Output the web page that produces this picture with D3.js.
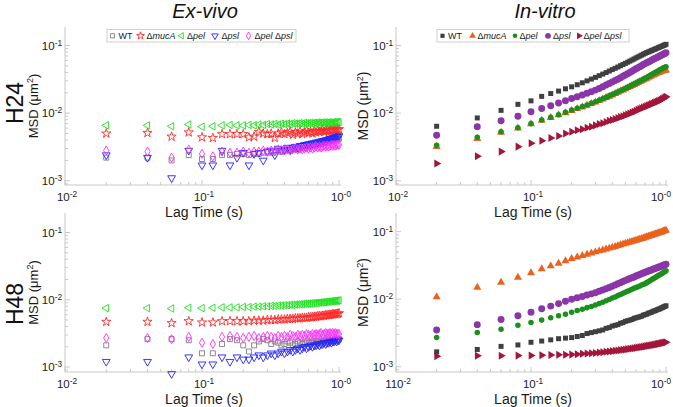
<!DOCTYPE html>
<html><head><meta charset="utf-8">
<script src="https://cdn.jsdelivr.net/npm/d3@7"></script>
<style>body{margin:0;background:#fff}svg{display:block;font-family:Arial,"Liberation Sans",sans-serif}</style>
</head><body><svg id="c" width="673" height="407"></svg>
<script>
const lag = [0.02,0.04,0.06,0.08,0.10,0.12,0.14,0.16,0.18,0.20,0.22,0.24,0.26,0.28,0.30,0.32,0.34,0.36,0.38,0.40,0.42,0.44,0.46,0.48,0.50,0.52,0.54,0.56,0.58,0.60,0.62,0.64,0.66,0.68,0.70,0.72,0.74,0.76,0.78,0.80,0.82,0.84,0.86,0.88,0.90,0.92,0.94,0.96,0.98,1.00];
const seriesNames = ["WT","ΔmucA","Δpel","Δpsl","Δpel Δpsl"];
const xTickLabels = ["10-2","10-1","10-0"];
const yTickLabels = ["10-3","10-2","10-1"];

// Ex-vivo H24
const exH24_WT = [0.0022,0.0022,0.0020,0.0024,0.0021,0.0021,0.0024,0.0024,0.0025,0.0025,0.0024,0.0025,0.0025,0.0026,0.0027,0.0026,0.0027,0.0028,0.0027,0.0028,0.0029,0.0028,0.0029,0.0030,0.0029,0.0030,0.0031,0.0030,0.0031,0.0032,0.0032,0.0033,0.0033,0.0034,0.0034,0.0035,0.0035,0.0036,0.0036,0.0037,0.0037,0.0038,0.0038,0.0039,0.0039,0.0040,0.0040,0.0041,0.0041,0.0042];
const exH24_mucA = [0.0050,0.0051,0.0045,0.0052,0.0044,0.0043,0.0049,0.0049,0.0049,0.0049,0.0044,0.0045,0.0053,0.0050,0.0049,0.0050,0.0043,0.0050,0.0052,0.0049,0.0051,0.0053,0.0048,0.0052,0.0050,0.0054,0.0049,0.0052,0.0055,0.0051,0.0053,0.0050,0.0054,0.0052,0.0055,0.0053,0.0054,0.0056,0.0053,0.0055,0.0056,0.0054,0.0056,0.0055,0.0057,0.0056,0.0057,0.0058,0.0057,0.0058];
const exH24_pel = [0.0066,0.0066,0.0064,0.0068,0.0063,0.0064,0.0066,0.0067,0.0066,0.0066,0.0067,0.0066,0.0068,0.0067,0.0069,0.0068,0.0069,0.0068,0.0070,0.0069,0.0070,0.0069,0.0071,0.0070,0.0070,0.0071,0.0070,0.0072,0.0071,0.0071,0.0072,0.0071,0.0072,0.0071,0.0073,0.0072,0.0072,0.0073,0.0072,0.0073,0.0072,0.0073,0.0073,0.0072,0.0073,0.0074,0.0073,0.0073,0.0074,0.0073];
const exH24_psl = [0.0024,0.0022,0.0011,0.0028,0.0017,0.0017,0.0028,0.0017,0.0022,0.0026,0.0017,0.0025,0.0026,0.0020,0.0027,0.0028,0.0024,0.0030,0.0028,0.0029,0.0031,0.0029,0.0031,0.0032,0.0031,0.0033,0.0033,0.0034,0.0034,0.0035,0.0035,0.0036,0.0036,0.0037,0.0037,0.0038,0.0038,0.0039,0.0039,0.0040,0.0040,0.0041,0.0042,0.0042,0.0043,0.0043,0.0044,0.0045,0.0045,0.0046];
const exH24_pelpsl = [0.0028,0.0027,0.0022,0.0029,0.0025,0.0023,0.0027,0.0026,0.0026,0.0027,0.0026,0.0027,0.0027,0.0028,0.0027,0.0028,0.0027,0.0029,0.0028,0.0028,0.0029,0.0028,0.0029,0.0030,0.0029,0.0030,0.0029,0.0030,0.0031,0.0030,0.0031,0.0030,0.0031,0.0032,0.0031,0.0032,0.0031,0.0032,0.0033,0.0032,0.0033,0.0032,0.0033,0.0034,0.0033,0.0034,0.0033,0.0034,0.0034,0.0034];

// In-vitro H24
const inH24_WT = [0.0064,0.0085,0.0110,0.0135,0.0152,0.0177,0.0195,0.0212,0.0229,0.0245,0.0263,0.0281,0.0300,0.0319,0.0338,0.0358,0.0378,0.0398,0.0419,0.0440,0.0460,0.0481,0.0502,0.0523,0.0544,0.0566,0.0588,0.0610,0.0632,0.0655,0.0677,0.0699,0.0721,0.0744,0.0766,0.0785,0.0803,0.0821,0.0840,0.0858,0.0876,0.0894,0.0913,0.0931,0.0949,0.0967,0.0985,0.1003,0.1022,0.1040];
const inH24_mucA = [0.0032,0.0042,0.0052,0.0060,0.0069,0.0078,0.0086,0.0094,0.0101,0.0109,0.0116,0.0123,0.0130,0.0138,0.0145,0.0153,0.0161,0.0169,0.0177,0.0185,0.0194,0.0202,0.0211,0.0219,0.0228,0.0237,0.0246,0.0255,0.0264,0.0273,0.0282,0.0291,0.0300,0.0309,0.0318,0.0327,0.0336,0.0345,0.0354,0.0363,0.0372,0.0381,0.0389,0.0397,0.0405,0.0413,0.0419,0.0425,0.0429,0.0433];
const inH24_pel = [0.00335,0.0044,0.0053,0.0061,0.0070,0.0079,0.0087,0.0095,0.0103,0.0111,0.0118,0.0125,0.0132,0.0140,0.0147,0.0155,0.0163,0.0171,0.0180,0.0188,0.0197,0.0205,0.0214,0.0223,0.0232,0.0241,0.0250,0.0260,0.0269,0.0279,0.0288,0.0298,0.0307,0.0317,0.0326,0.0337,0.0348,0.0359,0.0370,0.0381,0.0392,0.0403,0.0414,0.0425,0.0436,0.0447,0.0458,0.0469,0.0476,0.0486];
const inH24_psl = [0.0047,0.0063,0.0077,0.0090,0.0105,0.0117,0.0129,0.0141,0.0153,0.0165,0.0175,0.0186,0.0197,0.0208,0.0219,0.0232,0.0246,0.0260,0.0274,0.0288,0.0303,0.0318,0.0334,0.0350,0.0366,0.0383,0.0400,0.0417,0.0435,0.0452,0.0469,0.0487,0.0504,0.0522,0.0540,0.0555,0.0571,0.0587,0.0603,0.0619,0.0635,0.0651,0.0667,0.0683,0.0699,0.0715,0.0731,0.0747,0.0764,0.0780];
const inH24_pelpsl = [0.0018,0.0023,0.0027,0.0032,0.0036,0.0039,0.0043,0.0046,0.0050,0.0053,0.0056,0.0058,0.0061,0.0063,0.0066,0.0069,0.0071,0.0074,0.0077,0.0079,0.0082,0.0085,0.0088,0.0090,0.0093,0.0096,0.0099,0.0102,0.0105,0.0108,0.0112,0.0115,0.0118,0.0121,0.0124,0.0127,0.0130,0.0133,0.0136,0.0139,0.0142,0.0145,0.0148,0.0151,0.0154,0.0158,0.0162,0.0166,0.0170,0.0175];

// Ex-vivo H48
const exH48_WT = [0.0021,0.0026,0.0026,0.0025,0.0016,0.0016,0.0022,0.0026,0.0025,0.0021,0.0017,0.0021,0.0024,0.0026,0.0025,0.0022,0.0024,0.0023,0.0021,0.0022,0.0024,0.0023,0.0021,0.0022,0.0024,0.0023,0.0022,0.0023,0.0024,0.0023,0.0023,0.0024,0.0023,0.0024,0.0024,0.0023,0.0024,0.0024,0.0025,0.0024,0.0024,0.0025,0.0024,0.0025,0.0025,0.0025,0.0025,0.0026,0.0025,0.0026];
const exH48_mucA = [0.0047,0.0047,0.0045,0.0048,0.0046,0.0046,0.0048,0.0048,0.0048,0.0048,0.0048,0.0049,0.0049,0.0049,0.0050,0.0050,0.0050,0.0051,0.0051,0.0051,0.0052,0.0052,0.0052,0.0053,0.0053,0.0053,0.0054,0.0054,0.0054,0.0055,0.0055,0.0055,0.0056,0.0056,0.0057,0.0057,0.0057,0.0058,0.0058,0.0059,0.0059,0.0059,0.0060,0.0060,0.0061,0.0061,0.0061,0.0062,0.0062,0.0063];
const exH48_pel = [0.0075,0.0075,0.0074,0.0076,0.0075,0.0076,0.0077,0.0077,0.0077,0.0078,0.0078,0.0079,0.0079,0.0080,0.0080,0.0081,0.0081,0.0082,0.0082,0.0083,0.0083,0.0084,0.0084,0.0085,0.0085,0.0086,0.0086,0.0087,0.0087,0.0088,0.0088,0.0089,0.0089,0.0090,0.0090,0.0091,0.0091,0.0092,0.0092,0.0093,0.0093,0.0094,0.0094,0.0095,0.0095,0.0096,0.0096,0.0097,0.0097,0.0098];
const exH48_psl = [0.0012,0.0012,0.00079,0.0014,0.0011,0.0011,0.0014,0.0012,0.0014,0.0013,0.0013,0.0014,0.0015,0.0014,0.0015,0.0016,0.0015,0.0016,0.0017,0.0016,0.0017,0.0018,0.0017,0.0018,0.0019,0.0018,0.0019,0.0020,0.0019,0.0020,0.0021,0.0020,0.0021,0.0021,0.0022,0.0021,0.0022,0.0022,0.0023,0.0022,0.0023,0.0023,0.0024,0.0023,0.0024,0.0024,0.0025,0.0024,0.0025,0.0025];
const exH48_pelpsl = [0.0027,0.0027,0.0026,0.0028,0.0023,0.0022,0.0028,0.0029,0.0028,0.0027,0.0028,0.0029,0.0027,0.0028,0.0029,0.0028,0.0027,0.0029,0.0028,0.0029,0.0028,0.0030,0.0029,0.0028,0.0030,0.0029,0.0030,0.0029,0.0031,0.0030,0.0029,0.0031,0.0030,0.0031,0.0030,0.0031,0.0032,0.0030,0.0031,0.0032,0.0031,0.0031,0.0032,0.0031,0.0032,0.0031,0.0032,0.0031,0.0031,0.0031];

// In-vitro H48
const inH48_WT = [0.00166,0.0018,0.0020,0.0021,0.0023,0.0024,0.0025,0.0026,0.00265,0.0027,0.0028,0.0029,0.0031,0.0032,0.0033,0.0034,0.0035,0.0037,0.0038,0.0040,0.0041,0.0042,0.0044,0.0045,0.0047,0.0048,0.0049,0.0050,0.0052,0.0053,0.0054,0.0055,0.0056,0.0058,0.0059,0.0060,0.0062,0.0063,0.0064,0.0066,0.0067,0.0068,0.0070,0.0071,0.0072,0.0074,0.0075,0.0077,0.0078,0.0080];
const inH48_mucA = [0.0108,0.0149,0.0177,0.0210,0.0245,0.0280,0.0310,0.0340,0.0370,0.0400,0.0420,0.0440,0.0460,0.0480,0.0500,0.0517,0.0534,0.0551,0.0568,0.0585,0.0602,0.0619,0.0636,0.0653,0.0670,0.0685,0.0700,0.0715,0.0730,0.0745,0.0760,0.0775,0.0790,0.0805,0.0820,0.0835,0.0850,0.0865,0.0880,0.0895,0.0910,0.0925,0.0940,0.0955,0.0970,0.0985,0.1000,0.1015,0.1033,0.1050];
const inH48_pel = [0.0027,0.0032,0.0036,0.0041,0.0045,0.0049,0.0053,0.0057,0.0060,0.0064,0.0068,0.0071,0.0075,0.0078,0.0082,0.0086,0.0090,0.0095,0.0099,0.0104,0.0108,0.0113,0.0117,0.0122,0.0127,0.0131,0.0136,0.0140,0.0145,0.0149,0.0153,0.0157,0.0162,0.0166,0.0170,0.0176,0.0182,0.0188,0.0194,0.0200,0.0206,0.0212,0.0218,0.0224,0.0230,0.0237,0.0243,0.0250,0.0256,0.0263];
const inH48_psl = [0.0035,0.0042,0.0050,0.0057,0.0064,0.0072,0.0079,0.0086,0.0093,0.0100,0.0105,0.0110,0.0115,0.0120,0.0125,0.0131,0.0137,0.0143,0.0149,0.0156,0.0163,0.0169,0.0176,0.0183,0.0190,0.0196,0.0202,0.0208,0.0214,0.0220,0.0226,0.0232,0.0238,0.0244,0.0250,0.0255,0.0261,0.0266,0.0271,0.0277,0.0282,0.0287,0.0293,0.0298,0.0303,0.0309,0.0314,0.0319,0.0325,0.0330];
const inH48_pelpsl = [0.00143,0.00145,0.00145,0.00146,0.00147,0.00148,0.00149,0.00150,0.00150,0.00151,0.00153,0.00155,0.00157,0.00158,0.00160,0.00162,0.00164,0.00166,0.00168,0.00170,0.00172,0.00174,0.00176,0.00178,0.00180,0.00182,0.00184,0.00186,0.00188,0.00190,0.00192,0.00194,0.00196,0.00198,0.00200,0.00202,0.00204,0.00206,0.00208,0.00210,0.00212,0.00214,0.00216,0.00218,0.00220,0.00222,0.00224,0.00226,0.00228,0.00230];

const svg = d3.select("#c");

const exStyles = [
  {shape:"square", color:"#7f7f7f", fill:false},
  {shape:"star", color:"#ff2a2a", fill:false},
  {shape:"tleft", color:"#1ee01e", fill:false},
  {shape:"tdown", color:"#2323ff", fill:false},
  {shape:"diamond", color:"#ff2cff", fill:false}
];
const inStyles = [
  {shape:"square", color:"#3f3f3f", fill:true},
  {shape:"tup", color:"#ea621f", fill:true},
  {shape:"dot", color:"#1d8f1d", fill:true},
  {shape:"circle", color:"#8a35a8", fill:true},
  {shape:"tright", color:"#a3153a", fill:true}
];

function symPath(shape, s){
  switch(shape){
    case "square": return {d:d3.symbol(d3.symbolSquare, 25*s)(), rot:0};
    case "star": return {d:d3.symbol(d3.symbolStar, 26*s)(), rot:0};
    case "tleft": return {d:d3.symbol(d3.symbolTriangle, 24*s)(), rot:-90};
    case "tdown": return {d:d3.symbol(d3.symbolTriangle, 26*s)(), rot:180};
    case "tup": return {d:d3.symbol(d3.symbolTriangle, 28*s)(), rot:0};
    case "tright": return {d:d3.symbol(d3.symbolTriangle, 28*s)(), rot:90};
    case "diamond": return {d:d3.symbol(d3.symbolDiamond, 24*s)(), rot:0};
    case "circle": return {d:d3.symbol(d3.symbolCircle, 38*s)(), rot:0};
    case "dot": return {d:d3.symbol(d3.symbolCircle, 24*s)(), rot:0};
  }
}

function drawSupLabel(g, x, y, txt, anchor, size){
  const parts = txt.split("-");
  const t = g.append("text").attr("x", x).attr("y", y).attr("text-anchor", anchor)
    .attr("font-size", size).attr("fill", "#1a1a1a");
  t.append("tspan").text(parts[0]);
  t.append("tspan").attr("dy", -4).attr("font-size", size*0.72).text("-" + parts[1]);
}

const legendPos = [
  {box:[107, 296], marks:[112.5, 140.5, 181.5, 215, 248.5], texts:[118.5, 146.5, 187, 221.5, 254.5]},
  {box:[437, 629], marks:[442.5, 472.5, 515, 548, 579], texts:[448, 477.5, 519.5, 553, 583.5]}
];

const panels = [
  {xL:65, xR:339, y3:180.8, y1:45.5, top:27, bottom:185, data:[exH24_WT,exH24_mucA,exH24_pel,exH24_psl,exH24_pelpsl], styles:exStyles, legend:0, xFirst:"10-2"},
  {xL:396, xR:666, y3:180.8, y1:45.5, top:27, bottom:185, data:[inH24_WT,inH24_mucA,inH24_pel,inH24_psl,inH24_pelpsl], styles:inStyles, legend:1, xFirst:"10-2"},
  {xL:65, xR:339, y3:367, y1:232.5, top:213, bottom:372, data:[exH48_WT,exH48_mucA,exH48_pel,exH48_psl,exH48_pelpsl], styles:exStyles, legend:-1, xFirst:"10-2"},
  {xL:396, xR:666, y3:366.7, y1:231.7, top:213, bottom:372, data:[inH48_WT,inH48_mucA,inH48_pel,inH48_psl,inH48_pelpsl], styles:inStyles, legend:-1, xFirst:"110-2"}
];

panels.forEach((p, pi) => {
  const g = svg.append("g");
  const x = d3.scaleLog().domain([0.01, 1]).range([p.xL, p.xR]);
  const y0 = d3.scaleLog().domain([1e-3, 1e-1]).range([p.y3, p.y1]);
  const y = d3.scaleLog().domain([y0.invert(p.bottom), y0.invert(p.top)]).range([p.bottom, p.top]);
  const axisColor = "#c8c8c8";
  g.append("line").attr("x1", p.xL).attr("x2", p.xL).attr("y1", p.top).attr("y2", p.bottom).attr("stroke", axisColor);
  g.append("line").attr("x1", p.xL).attr("x2", p.xR + 2).attr("y1", p.bottom).attr("y2", p.bottom).attr("stroke", axisColor);
  const xt = [];
  [-2,-1].forEach(d => { for(let k=1;k<=9;k++) xt.push({v:k*Math.pow(10,d), major:k===1}); });
  xt.push({v:1, major:true});
  xt.forEach(t => {
    const px = x(t.v);
    g.append("line").attr("x1", px).attr("x2", px).attr("y1", p.bottom).attr("y2", p.bottom - (t.major?5:3)).attr("stroke", axisColor);
  });
  const yt = [];
  [-4,-3,-2,-1].forEach(d => { for(let k=1;k<=9;k++) yt.push({v:k*Math.pow(10,d), major:k===1}); });
  yt.filter(t => y(t.v) <= p.bottom && y(t.v) >= p.top).forEach(t => {
    const py = y(t.v);
    g.append("line").attr("x1", p.xL).attr("x2", p.xL + (t.major?5:3)).attr("y1", py).attr("y2", py).attr("stroke", axisColor);
  });
  const xVals = [0.01, 0.1, 1];
  xVals.forEach((v, i) => {
    const lab = i === 0 ? p.xFirst : xTickLabels[i];
    let px = x(v) + 2;
    if (i === 2 && pi % 2 === 1) px = x(v) - 5;
    drawSupLabel(g, px, p.bottom + 16, lab, "middle", 11.5);
  });
  const yVals = [1e-3, 1e-2, 1e-1];
  yVals.forEach((v, i) => {
    drawSupLabel(g, p.xL - 3, y(v) + 4, yTickLabels[i], "end", 11.5);
  });
  p.data.forEach((vals, si) => {
    const st = p.styles[si];
    const sp = symPath(st.shape, 1);
    g.append("g").selectAll("path").data(vals).join("path")
      .attr("d", sp.d)
      .attr("transform", (d, i) => `translate(${x(lag[i])},${y(d)}) rotate(${sp.rot})`)
      .attr("fill", st.fill ? st.color : "none")
      .attr("stroke", st.fill ? "none" : st.color)
      .attr("stroke-width", 0.9);
  });
  g.append("text").attr("x", (p.xL + p.xR)/2 + 2).attr("y", p.bottom + 32).attr("text-anchor", "middle")
    .attr("font-size", 14).attr("fill", "#1a1a1a").text("Lag Time (s)");
  const my = (p.top + p.bottom)/2;
  const mx = p.xL - (pi % 2 === 0 ? 27 : 28);
  const mt = g.append("text").attr("transform", `translate(${mx},${my}) rotate(-90)`).attr("text-anchor", "middle")
    .attr("font-size", pi % 2 === 0 ? 13 : 14).attr("fill", "#1a1a1a");
  mt.append("tspan").text("MSD (μm");
  mt.append("tspan").attr("dy", -5).attr("font-size", 9).text("2");
  mt.append("tspan").attr("dy", 5).text(")");
  if (p.legend >= 0) {
    const L = legendPos[p.legend];
    const lg = g.append("g");
    lg.append("rect").attr("x", L.box[0]).attr("y", 29.5).attr("width", L.box[1] - L.box[0]).attr("height", 12.5)
      .attr("fill", "#fff").attr("stroke", "#d0d0d0");
    seriesNames.forEach((nm, si) => {
      const st = p.styles[si];
      const sp = symPath(st.shape, 0.7);
      lg.append("path").attr("d", sp.d).attr("transform", `translate(${L.marks[si]},35.8) rotate(${sp.rot})`)
        .attr("fill", st.fill ? st.color : "none").attr("stroke", st.fill ? "none" : st.color).attr("stroke-width", 0.9);
      const t = lg.append("text").attr("x", L.texts[si]).attr("y", 39.3).attr("font-size", 9).attr("fill", "#1a1a1a");
      if (si === 0) t.text("WT");
      else {
        nm.split(" ").forEach((pt, k) => {
          t.append("tspan").text((k ? " " : "") + "Δ");
          t.append("tspan").attr("font-style", "italic").text(pt.slice(1));
        });
      }
    });
  }
});

svg.append("text").attr("x", 205).attr("y", 18).attr("text-anchor", "middle").attr("font-size", 20)
  .attr("font-style", "italic").attr("fill", "#111").text("Ex-vivo");
svg.append("text").attr("x", 545).attr("y", 18).attr("text-anchor", "middle").attr("font-size", 20)
  .attr("font-style", "italic").attr("fill", "#111").text("In-vitro");
svg.append("text").attr("transform", "translate(23,103) rotate(-90)").attr("text-anchor", "middle")
  .attr("font-size", 23).attr("fill", "#111").text("H24");
svg.append("text").attr("transform", "translate(23,304) rotate(-90)").attr("text-anchor", "middle")
  .attr("font-size", 23).attr("fill", "#111").text("H48");
</script></body></html>
